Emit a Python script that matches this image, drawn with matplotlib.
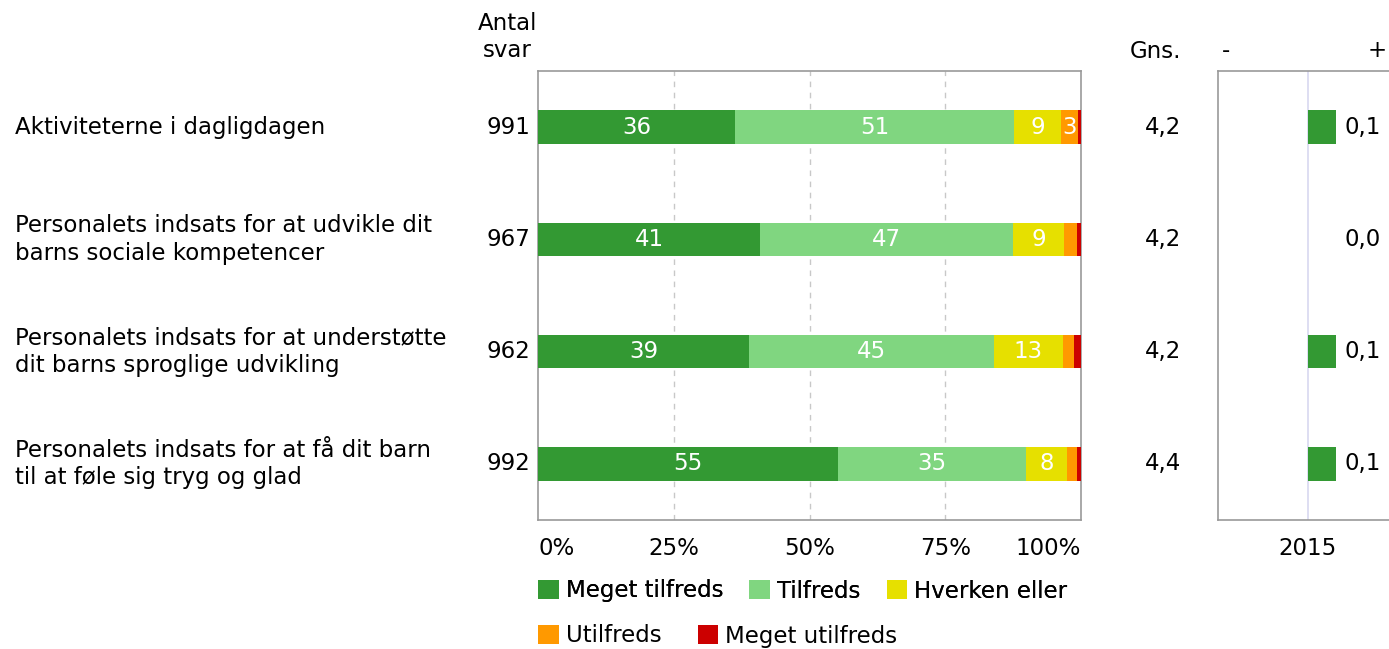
import matplotlib
matplotlib.use("Agg")
import matplotlib.pyplot as plt
from matplotlib.patches import Patch
from matplotlib.transforms import blended_transform_factory
import numpy as np

plt.rcParams['font.family'] = ['DejaVu Sans']

categories = [
    "Aktiviteterne i dagligdagen",
    "Personalets indsats for at udvikle dit\nbarns sociale kompetencer",
    "Personalets indsats for at understøtte\ndit barns sproglige udvikling",
    "Personalets indsats for at få dit barn\ntil at føle sig tryg og glad",
]
counts = [991, 967, 962, 992]
meget_tilfreds = [36.3, 40.9, 38.9, 55.2]
tilfreds = [51.4, 46.6, 45.0, 34.6]
hverken = [8.6, 9.3, 12.8, 7.7]
utilfreds = [3.2, 2.4, 2.1, 1.7]
meget_utilfreds = [0.5, 0.8, 1.2, 0.8]
gns = ["4,2", "4,2", "4,2", "4,4"]
change = [0.1, 0.0, 0.1, 0.1]
change_labels = ["0,1", "0,0", "0,1", "0,1"]
series_names = ["Meget tilfreds", "Tilfreds", "Hverken eller", "Utilfreds", "Meget utilfreds"]
colors = ["#339933", "#80d680", "#e6e000", "#ff9900", "#cc0000"]
x_ticks = [0, 25, 50, 75, 100]
x_ticklabels = ["0%", "25%", "50%", "75%", "100%"]

W, H = 1389, 649
fig = plt.figure(figsize=(W / 100, H / 100), dpi=100)
FS = 16.5

def fx(px):
    return px / W

def fy(py):
    return 1 - py / H

ax = fig.add_axes([fx(538), fy(520), fx(1081) - fx(538), fy(71) - fy(520)])
ax2 = fig.add_axes([fx(1218), fy(520), fx(1398) - fx(1218), fy(71) - fy(520)])

y = np.arange(len(categories))
series = [meget_tilfreds, tilfreds, hverken, utilfreds, meget_utilfreds]
left = np.zeros(len(categories))
bh = 0.30
for vals, col in zip(series, colors):
    vals = np.array(vals)
    ax.barh(y, vals, left=left, height=bh, color=col, edgecolor='none', zorder=3)
    for yi, (l, v) in enumerate(zip(left, vals)):
        if round(v) >= 3:
            ax.text(l + v / 2, yi, f"{int(round(v))}", ha='center', va='center',
                    color='white', fontsize=FS, zorder=4)
    left += vals

ax.set_xlim(0, 100)
ax.set_ylim(len(categories) - 0.5, -0.5)
ax.set_yticks([])
ax.set_xticks(x_ticks)
ax.set_xticklabels(x_ticklabels, fontsize=FS)
tl = ax.get_xticklabels()
tl[0].set_ha('left')
tl[-1].set_ha('right')
ax.tick_params(axis='x', length=0, pad=12)
for xv in x_ticks[1:-1]:
    ax.axvline(xv, color='#c8c8c8', linestyle=(0, (4, 4)), linewidth=1, zorder=1)
for s in ax.spines.values():
    s.set_color('#999999')
    s.set_linewidth(1.2)

tr = blended_transform_factory(fig.transFigure, ax.transData)
for yi, (cat, n, g) in enumerate(zip(categories, counts, gns)):
    ax.text(fx(15), yi, cat, transform=tr, ha='left', va='center',
            fontsize=FS, linespacing=1.25)
    ax.text(fx(530), yi, str(n), transform=tr, ha='right', va='center', fontsize=FS)
    ax.text(fx(1181), yi, g, transform=tr, ha='right', va='center', fontsize=FS)

fig.text(fx(507), fy(37), "Antal\nsvar", ha='center', va='center', fontsize=FS,
         linespacing=1.25)
fig.text(fx(1181), fy(52), "Gns.", ha='right', va='center', fontsize=FS)

ax2.barh(y, change, height=bh, color=colors[0], edgecolor='none', zorder=3)
for yi, lab in enumerate(change_labels):
    ax2.text(0.13, yi, lab, ha='left', va='center', fontsize=FS, clip_on=False)
ax2.axvline(0, color='#d8d8f0', linewidth=1.2, zorder=1)
ax2.set_xlim(-0.32, 0.32)
ax2.set_ylim(len(categories) - 0.5, -0.5)
ax2.set_yticks([])
ax2.set_xticks([0])
ax2.set_xticklabels(["2015"], fontsize=FS)
ax2.tick_params(axis='x', length=0, pad=12)
for s in ax2.spines.values():
    s.set_color('#999999')
    s.set_linewidth(1.2)
ax2.text(0.02, 1.02, "-", transform=ax2.transAxes, ha='left', va='bottom', fontsize=FS)
ax2.text(0.94, 1.02, "+", transform=ax2.transAxes, ha='right', va='bottom', fontsize=FS)

handles = [Patch(facecolor=c, edgecolor='none') for c in colors]
leg1 = fig.legend(handles[:3], series_names[:3], loc='center left',
                  bbox_to_anchor=(fx(538), fy(591)), ncol=3, frameon=False,
                  fontsize=FS, handlelength=0.9, handleheight=0.9,
                  handletextpad=0.3, columnspacing=1.15, borderpad=0,
                  borderaxespad=0)
leg2 = fig.legend(handles[3:], series_names[3:], loc='center left',
                  bbox_to_anchor=(fx(538), fy(636)), ncol=2, frameon=False,
                  fontsize=FS, handlelength=0.9, handleheight=0.9,
                  handletextpad=0.3, columnspacing=1.6, borderpad=0,
                  borderaxespad=0)
fig.add_artist(leg1)

fig.savefig("out.png", dpi=100)
